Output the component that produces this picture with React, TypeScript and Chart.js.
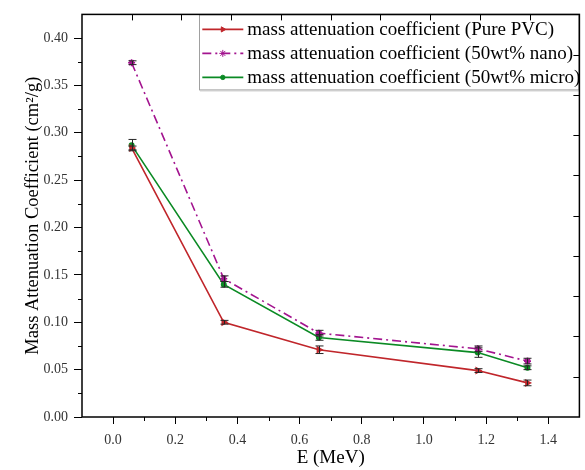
import React, { useEffect, useRef } from "react";
import { Chart, registerables } from "chart.js";
import { drawPoint } from "chart.js/helpers";

Chart.register(...registerables);

// ---------- data ----------
const energies = [0.0595, 0.356, 0.662, 1.173, 1.333];
const pvcValues = [0.284, 0.1, 0.071, 0.049, 0.036];
const pvcErrors = [0.002, 0.002, 0.004, 0.002, 0.003];
const nanoValues = [0.374, 0.146, 0.0885, 0.072, 0.059];
const nanoErrors = [0.002, 0.003, 0.003, 0.003, 0.003];
const microValues = [0.287, 0.14, 0.084, 0.068, 0.052];
const microErrors = [0.006, 0.003, 0.003, 0.005, 0.002];

const seriesLabels = [
  "mass attenuation coefficient (Pure PVC)",
  "mass attenuation coefficient (50wt% nano)",
  "mass attenuation coefficient (50wt% micro)",
];

const xTickValues = [0, 0.2, 0.4, 0.6, 0.8, 1.0, 1.2, 1.4];
const yTickValues = [0, 0.05, 0.1, 0.15, 0.2, 0.25, 0.3, 0.35, 0.4];
const frameTickValues = [1, 2, 3, 4, 5, 6, 7, 8, 9];

const xTitle = "E (MeV)";
const yTitle = "Mass Attenuation Coefficient (cm\u00B2/g)";

const SERIF = '"Liberation Serif", "Times New Roman", serif';

const toPoints = (vals: number[]) => vals.map((v, i) => ({ x: energies[i], y: v }));

const decorPlugin = {
  id: "decor",
  afterDatasetsDraw(chart: any) {
    const ctx = chart.ctx;
    const xs = chart.scales.x;
    const ys = chart.scales.y;
    ctx.save();
    ctx.strokeStyle = "#262626";
    ctx.lineWidth = 1;
    chart.data.datasets.forEach((ds: any) => {
      ds.data.forEach((p: any, i: number) => {
        const e = ds.errors[i];
        const px = Math.round(xs.getPixelForValue(p.x)) + 0.5;
        const top = ys.getPixelForValue(p.y + e);
        const bot = ys.getPixelForValue(p.y - e);
        ctx.beginPath();
        ctx.moveTo(px, top);
        ctx.lineTo(px, bot);
        ctx.moveTo(px - 4, top);
        ctx.lineTo(px + 4, top);
        ctx.moveTo(px - 4, bot);
        ctx.lineTo(px + 4, bot);
        ctx.stroke();
      });
    });
    ctx.restore();
  },
  afterDraw(chart: any) {
    const ctx = chart.ctx;
    const { left, right, top, bottom } = chart.chartArea;
    const xs = chart.scales.x;
    const ys = chart.scales.y;
    const x2 = chart.scales.x2;
    const y2 = chart.scales.y2;

    // legend
    ctx.save();
    ctx.font = `19px ${SERIF}`;
    const widths = seriesLabels.map((l) => ctx.measureText(l).width);
    const maxW = Math.max(...widths);
    const boxLeft = right - maxW - 47;
    const boxTop = top;
    const rowH = 24;
    const boxH = 3 + rowH * seriesLabels.length;
    ctx.fillStyle = "#ffffff";
    ctx.fillRect(boxLeft, boxTop, right - boxLeft, boxH);
    ctx.strokeStyle = "#a0a0a0";
    ctx.lineWidth = 1;
    ctx.strokeRect(Math.round(boxLeft) + 0.5, boxTop + 0.5, right - Math.round(boxLeft) - 1, boxH);
    ctx.strokeStyle = "#c8c8c8";
    ctx.beginPath();
    ctx.moveTo(Math.round(boxLeft) + 1, boxTop + boxH + 1.5);
    ctx.lineTo(right, boxTop + boxH + 1.5);
    ctx.stroke();
    chart.data.datasets.forEach((ds: any, i: number) => {
      const cy = boxTop + 3 + rowH * i + rowH / 2;
      const x0 = boxLeft + 3;
      const x1 = boxLeft + 44;
      ctx.save();
      ctx.strokeStyle = ds.borderColor;
      ctx.lineWidth = ds.borderWidth;
      ctx.setLineDash(ds.borderDash || []);
      ctx.beginPath();
      ctx.moveTo(x0, cy);
      ctx.lineTo(x1, cy);
      ctx.stroke();
      ctx.setLineDash([]);
      ctx.fillStyle = ds.pointBackgroundColor;
      ctx.strokeStyle = ds.pointBorderColor;
      ctx.lineWidth = 1;
      drawPoint(
        ctx,
        { pointStyle: ds.pointStyle, rotation: ds.pointRotation || 0, radius: ds.pointRadius, borderWidth: 1 },
        (x0 + x1) / 2,
        cy
      );
      ctx.restore();
      ctx.fillStyle = "#000";
      ctx.textBaseline = "middle";
      ctx.textAlign = "left";
      ctx.fillText(seriesLabels[i], boxLeft + 48, cy + 1);
    });
    ctx.restore();

    // frame and ticks
    ctx.save();
    ctx.strokeStyle = "#000";
    ctx.lineWidth = 1;
    ctx.beginPath();
    for (let i = 0; i < yTickValues.length - 1; i++) {
      const py = Math.round(ys.getPixelForValue((yTickValues[i] + yTickValues[i + 1]) / 2)) + 0.5;
      ctx.moveTo(left - 4, py);
      ctx.lineTo(left, py);
    }
    for (let i = 0; i < xTickValues.length - 1; i++) {
      const px = Math.round(xs.getPixelForValue((xTickValues[i] + xTickValues[i + 1]) / 2)) + 0.5;
      ctx.moveTo(px, bottom);
      ctx.lineTo(px, bottom + 4);
    }
    frameTickValues.forEach((v) => {
      const px = Math.round(x2.getPixelForValue(v)) + 0.5;
      ctx.moveTo(px, top);
      ctx.lineTo(px, top + 6);
      const py = Math.round(y2.getPixelForValue(v)) + 0.5;
      ctx.moveTo(right, py);
      ctx.lineTo(right - 6, py);
    });
    ctx.stroke();
    ctx.lineWidth = 1.5;
    ctx.strokeRect(left, top, right - left, bottom - top);
    ctx.restore();
  },
};

export default function App() {
  const canvasRef = useRef<HTMLCanvasElement | null>(null);

  useEffect(() => {
    if (!canvasRef.current) return;
    const chart = new Chart(canvasRef.current, {
      type: "line",
      data: {
        datasets: [
          {
            label: seriesLabels[0],
            data: toPoints(pvcValues),
            errors: pvcErrors,
            borderColor: "#c0262b",
            backgroundColor: "#c0262b",
            borderWidth: 1.6,
            pointStyle: "triangle",
            pointRotation: 90,
            pointRadius: 3,
            pointBackgroundColor: "#c0262b",
            pointBorderColor: "#c0262b",
            tension: 0,
          } as any,
          {
            label: seriesLabels[1],
            data: toPoints(nanoValues),
            errors: nanoErrors,
            borderColor: "#a3148f",
            backgroundColor: "#a3148f",
            borderWidth: 1.6,
            borderDash: [9, 4, 2, 4],
            pointStyle: "star",
            pointRadius: 3.5,
            pointBackgroundColor: "#a3148f",
            pointBorderColor: "#a3148f",
            tension: 0,
          } as any,
          {
            label: seriesLabels[2],
            data: toPoints(microValues),
            errors: microErrors,
            borderColor: "#0b8a24",
            backgroundColor: "#0b8a24",
            borderWidth: 1.6,
            pointStyle: "circle",
            pointRadius: 2.2,
            pointBackgroundColor: "#0b8a24",
            pointBorderColor: "#0b8a24",
            tension: 0,
          } as any,
        ],
      },
      options: {
        animation: false,
        responsive: true,
        maintainAspectRatio: false,
        layout: { padding: { top: 12, right: 4, left: 0, bottom: 0 } },
        plugins: { legend: { display: false }, tooltip: { enabled: false } },
        scales: {
          x: {
            type: "linear",
            min: -0.1,
            max: 1.5,
            afterBuildTicks: (s: any) => {
              s.ticks = xTickValues.map((v) => ({ value: v }));
            },
            afterFit: (s: any) => {
              s.height = 53;
            },
            border: { display: false },
            grid: { drawOnChartArea: false, drawTicks: true, tickLength: 7, tickColor: "#000", tickWidth: 1 },
            ticks: {
              color: "#333",
              font: { family: SERIF, size: 14 },
              padding: 8,
              maxRotation: 0,
              autoSkip: false,
              callback: (v: any) => Number(v).toFixed(1),
            },
            title: {
              display: true,
              text: xTitle,
              color: "#000",
              font: { family: SERIF, size: 19 },
              padding: { top: 0, bottom: 1 },
            },
          },
          y: {
            type: "linear",
            min: 0,
            max: 0.425,
            afterBuildTicks: (s: any) => {
              s.ticks = yTickValues.map((v) => ({ value: v }));
            },
            afterFit: (s: any) => {
              s.width = 82;
            },
            border: { display: false },
            grid: { drawOnChartArea: false, drawTicks: true, tickLength: 8, tickColor: "#000", tickWidth: 1 },
            ticks: {
              color: "#333",
              font: { family: SERIF, size: 14 },
              padding: 6,
              autoSkip: false,
              callback: (v: any) => Number(v).toFixed(2),
            },
            title: {
              display: true,
              text: yTitle,
              color: "#000",
              font: { family: SERIF, size: 18.5 },
              padding: { top: 22, bottom: 0 },
            },
          },
          x2: { type: "linear", position: "top", min: 0, max: 10, display: false },
          y2: { type: "linear", position: "right", min: 0, max: 10, display: false },
        },
      } as any,
      plugins: [decorPlugin as any],
    });
    return () => chart.destroy();
  }, []);

  return (
    <div style={{ position: "fixed", left: 0, top: 0, width: 585, height: 470, background: "#fff" }}>
      <canvas ref={canvasRef} />
    </div>
  );
}
